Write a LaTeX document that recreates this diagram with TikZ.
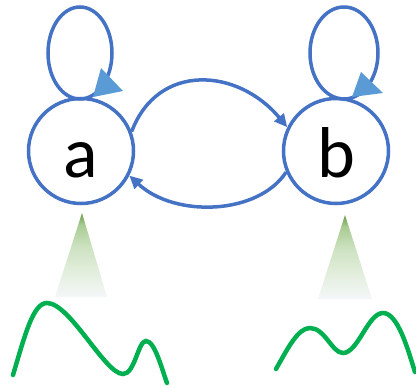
\documentclass[tikz,border=0pt]{standalone}
\usepackage{fontspec}
\setmainfont{Carlito}
\usetikzlibrary{arrows.meta}
\definecolor{edgeblue}{HTML}{4472C4}
\definecolor{tipblue}{HTML}{5B9BD5}
\definecolor{curvegreen}{HTML}{00B050}
\definecolor{gtop}{HTML}{6A9A48}
\definecolor{gone}{HTML}{A9CB93}
\definecolor{gtwo}{HTML}{CDE2C1}
\definecolor{gthree}{HTML}{E3EEDD}
\definecolor{gbot}{HTML}{F4F7F9}
\pgfdeclareverticalshading{conefade}{100bp}{color(0bp)=(gbot); color(25bp)=(gbot); color(40bp)=(gthree); color(55bp)=(gtwo); color(68bp)=(gone); color(75bp)=(gtop); color(100bp)=(gtop)}
\tikzset{
  state/.style={circle, draw=edgeblue, line width=3.5pt, minimum size=105pt, inner sep=0pt,
    text height=52pt, text depth=0pt, font=\fontsize{72}{72}\selectfont},
  edgeline/.style={draw=edgeblue, line width=3.5pt, -{Triangle[length=13pt,width=12pt]}},
  loopline/.style={draw=edgeblue, line width=3.5pt},
  looptip/.style={fill=tipblue},
  cone/.style={shading=conefade, draw=none},
  wave/.style={draw=curvegreen, line width=4.5pt, line cap=round}
}
\begin{document}
\begin{tikzpicture}[x=1pt, y=-1pt]
\useasboundingbox (0,0) rectangle (416,388);
\node[state] (a) at (81,151) {a};
\node[state] (b) at (336,151) {b};
% self loops
\coordinate (la) at (80,53);
\coordinate (lb) at (344,53);
\draw[loopline] (la) ellipse [x radius=32pt, y radius=46pt];
\draw[loopline] (lb) ellipse [x radius=34pt, y radius=46pt];
\fill[looptip] (101,68) -- (123,91) -- (93,97) -- cycle;
\fill[looptip] (361,72) -- (383,93) -- (352,97) -- cycle;
% edges
\draw[edgeline] (a.21) .. controls (158,62) and (238,68) .. (b.154);
\draw[edgeline] (b.203) .. controls (258,215) and (175,218) .. (a.333);
% cones
\shade[cone] (82,213) -- (107,297) -- (55,297) -- cycle;
\shade[cone] (345,215) -- (372,299) -- (318,299) -- cycle;
% waves
\draw[wave] (13,375) .. controls (25,335) and (33,303) .. (47,303)
  .. controls (70,303) and (105,374) .. (123,374)
  .. controls (135,374) and (138,341) .. (146,341)
  .. controls (155,341) and (162,370) .. (167,383);
\draw[wave] (276,369) .. controls (288,348) and (298,328) .. (310,328)
  .. controls (325,328) and (332,353) .. (343,353)
  .. controls (358,353) and (368,313) .. (383,313)
  .. controls (398,313) and (408,350) .. (415,372);
\end{tikzpicture}
\end{document}
